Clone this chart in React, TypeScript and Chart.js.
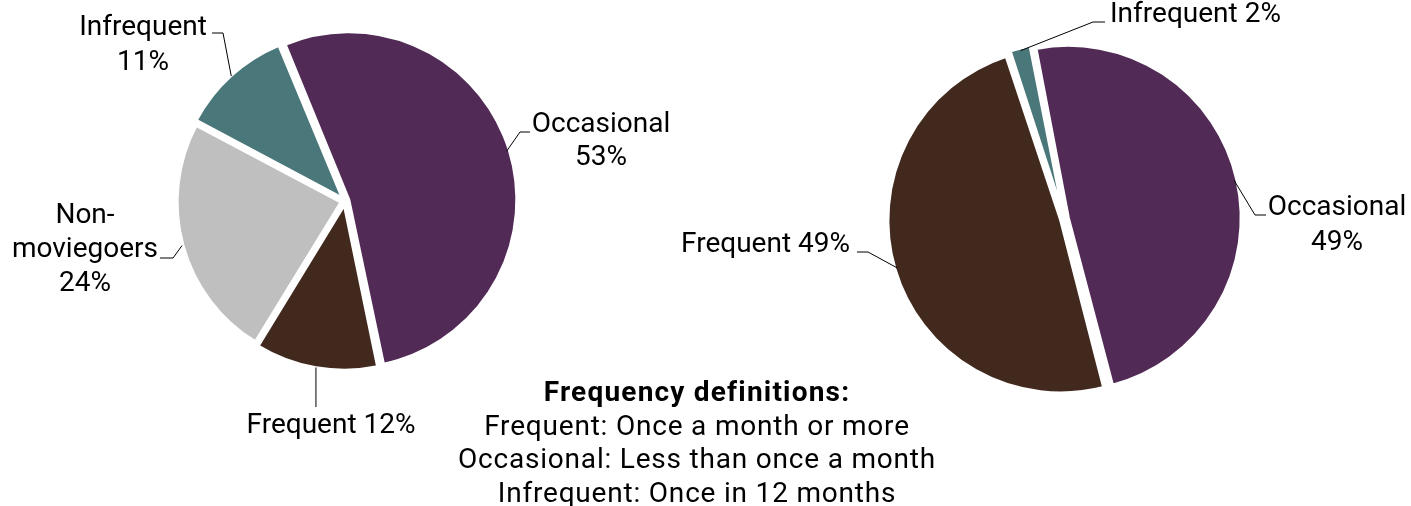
import React, { useEffect, useRef } from "react";
import { Chart, registerables } from "chart.js";

Chart.register(...registerables);

// ---------- data ----------
const leftCategories = ["Occasional", "Frequent", "Non-moviegoers", "Infrequent"];
const leftValues = [53, 12, 24, 11];
const leftColors = ["#522A56", "#42291E", "#BFBFBF", "#4A777A"];

const rightCategories = ["Occasional", "Frequent", "Infrequent"];
const rightValues = [49, 49, 2];
const rightColors = ["#522A56", "#42291E", "#4A777A"];

const definitionTitle = "Frequency definitions:";
const definitionLines = [
  "Frequent: Once a month or more",
  "Occasional: Less than once a month",
  "Infrequent: Once in 12 months",
];

const pct = (v: number) => `${v}%`;

const leftLabelLines = [
  [leftCategories[0], pct(leftValues[0])],
  [`${leftCategories[1]} ${pct(leftValues[1])}`],
  ["Non-", "moviegoers", pct(leftValues[2])],
  [leftCategories[3], pct(leftValues[3])],
];
const rightLabelLines = [
  [rightCategories[0], pct(rightValues[0])],
  [`${rightCategories[1]} ${pct(rightValues[1])}`],
  [`${rightCategories[2]} ${pct(rightValues[2])}`],
];

// ---------- layout ----------
const W = 1411;
const H = 506;
const FONT = "28px Roboto";
const SLICE_OFFSET = 16;
const BORDER = 3;

type Spec = {
  lines: string[];
  tx: number;
  ty: number;
  lh: number;
  align: CanvasTextAlign;
  frac: number;
  ex: number;
  ey: number;
  hx: number;
  vertical?: boolean;
};

const leftSpecs: Spec[] = [
  { lines: leftLabelLines[0], tx: 601, ty: 132, lh: 33, align: "center", frac: 0.5, ex: 520, ey: 132, hx: 530 },
  { lines: leftLabelLines[1], tx: 331, ty: 433, lh: 33, align: "center", frac: 0.5, ex: 0, ey: 407, hx: 0, vertical: true },
  { lines: leftLabelLines[2], tx: 85, ty: 223, lh: 34, align: "center", frac: 0.5, ex: 173, ey: 258, hx: 160 },
  { lines: leftLabelLines[3], tx: 143, ty: 35, lh: 35, align: "center", frac: 0.5, ex: 223, ey: 33, hx: 212 },
];

const rightSpecs: Spec[] = [
  { lines: rightLabelLines[0], tx: 1337, ty: 215, lh: 35, align: "center", frac: 0.5, ex: 1255, ey: 215, hx: 1266 },
  { lines: rightLabelLines[1], tx: 850, ty: 252, lh: 33, align: "right", frac: 0.5, ex: 868, ey: 252, hx: 857 },
  { lines: rightLabelLines[2], tx: 1110, ty: 22, lh: 33, align: "left", frac: 0.5, ex: 1093, ey: 22, hx: 1105 },
];

function makeLeaderPlugin(specs: Spec[]) {
  return {
    id: "leaders",
    afterDatasetsDraw(chart: any) {
      const meta = chart.getDatasetMeta(0);
      const ctx: CanvasRenderingContext2D = chart.ctx;
      ctx.save();
      ctx.strokeStyle = "#000";
      ctx.lineWidth = 1;
      ctx.fillStyle = "#000";
      ctx.font = FONT;
      ctx.textBaseline = "alphabetic";
      meta.data.forEach((arc: any, i: number) => {
        const s = specs[i];
        if (!s) return;
        const p = arc.getProps(["x", "y", "startAngle", "endAngle", "outerRadius"], true);
        const mid = (p.startAngle + p.endAngle) / 2;
        const a = p.startAngle + (p.endAngle - p.startAngle) * s.frac;
        const shift = SLICE_OFFSET / 4;
        const r = p.outerRadius + 1;
        const ax = p.x + Math.cos(mid) * shift + Math.cos(a) * r;
        const ay = p.y + Math.sin(mid) * shift + Math.sin(a) * r;
        ctx.beginPath();
        ctx.moveTo(ax, ay);
        if (s.vertical) {
          ctx.lineTo(ax, s.ey);
        } else {
          ctx.lineTo(s.ex, s.ey);
          ctx.lineTo(s.hx, s.ey);
        }
        ctx.stroke();
        ctx.textAlign = s.align;
        s.lines.forEach((t, k) => ctx.fillText(t, s.tx, s.ty + k * s.lh));
      });
      ctx.restore();
    },
  };
}

type PieProps = {
  labels: string[];
  values: number[];
  colors: string[];
  rotation: number;
  radius: number;
  padding: { left: number; right: number; top: number; bottom: number };
  specs: Spec[];
};

function PieCanvas({ labels, values, colors, rotation, radius, padding, specs }: PieProps) {
  const ref = useRef<HTMLCanvasElement>(null);
  useEffect(() => {
    if (!ref.current) return;
    const chart = new Chart(ref.current, {
      type: "pie",
      data: {
        labels,
        datasets: [
          {
            data: values,
            backgroundColor: colors,
            borderColor: "#ffffff",
            borderWidth: BORDER,
            offset: SLICE_OFFSET,
            rotation,
            radius,
          } as any,
        ],
      },
      options: {
        responsive: false,
        animation: false,
        rotation,
        radius,
        events: [],
        layout: { padding },
        plugins: {
          legend: { display: false },
          tooltip: { enabled: false },
        },
      } as any,
      plugins: [makeLeaderPlugin(specs)],
    });
    return () => chart.destroy();
  }, []);
  return (
    <canvas
      ref={ref}
      width={W}
      height={H}
      style={{ position: "absolute", left: 0, top: 0, width: W, height: H }}
    />
  );
}

export default function App() {
  return (
    <div
      style={{
        position: "fixed",
        left: 0,
        top: 0,
        width: W,
        height: H,
        background: "#fff",
        overflow: "hidden",
      }}
    >
      <PieCanvas
        labels={leftCategories}
        values={leftValues}
        colors={leftColors}
        rotation={-22.5}
        radius={164}
        padding={{ left: 0, right: W - 690, top: 0, bottom: H - 402 }}
        specs={leftSpecs}
      />
      <PieCanvas
        labels={rightCategories}
        values={rightValues}
        colors={rightColors}
        rotation={-11}
        radius={169}
        padding={{ left: 718, right: 0, top: 0, bottom: H - 438 }}
        specs={rightSpecs}
      />
      <div
        style={{
          position: "absolute",
          left: 397,
          top: 375,
          width: 600,
          textAlign: "center",
          font: FONT,
          lineHeight: "33.5px",
          color: "#000",
        }}
      >
        <div style={{ fontWeight: 700, letterSpacing: "1.2px" }}>{definitionTitle}</div>
        {definitionLines.map((l) => (
          <div key={l} style={{ letterSpacing: "0.8px" }}>
            {l}
          </div>
        ))}
      </div>
    </div>
  );
}
